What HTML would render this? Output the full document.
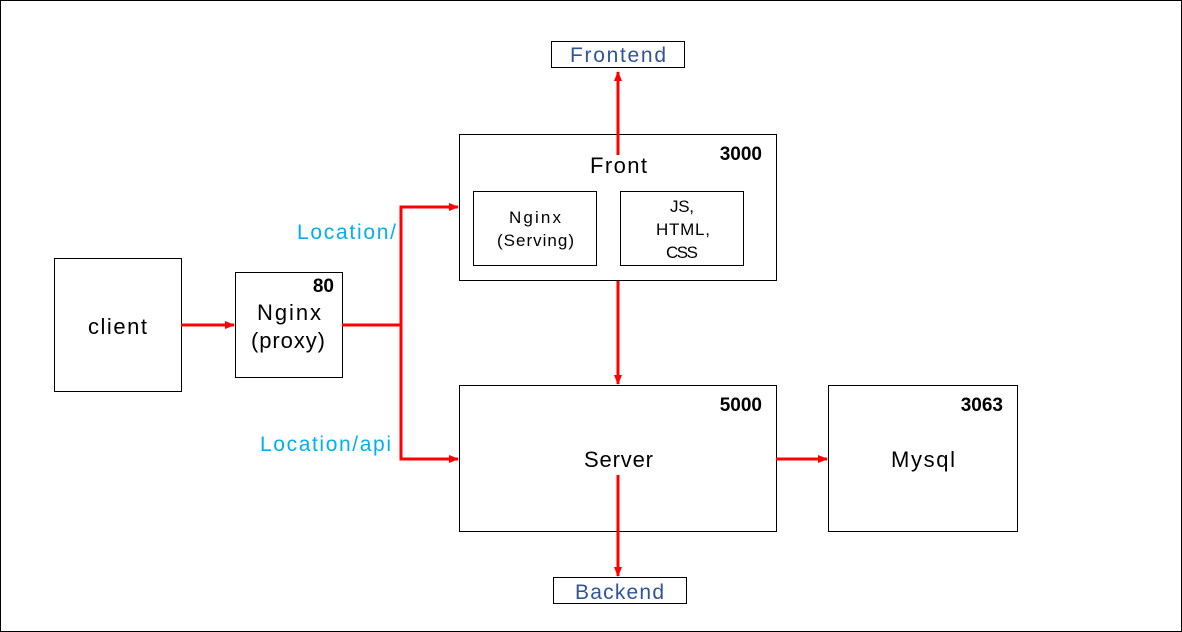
<!DOCTYPE html>
<html><head><meta charset="utf-8"><style>
html,body{margin:0;padding:0;background:#fff}
svg{display:block}
text{font-family:"Liberation Sans","Noto Sans CJK KR",sans-serif}
</style></head><body>
<svg width="1182" height="632" viewBox="0 0 1182 632" xmlns="http://www.w3.org/2000/svg">
<defs><marker id="a" markerWidth="10" markerHeight="10" refX="9" refY="5" orient="auto" markerUnits="userSpaceOnUse"><path d="M0,1 L10,5 L0,9 z" fill="#f00"/></marker></defs>
<rect x="0.5" y="0.5" width="1181" height="631" fill="#fff" stroke="#000"/>
<g fill="#fff" stroke="#000" stroke-width="1">
<rect x="54.5" y="258.5" width="127" height="133"/>
<rect x="235.5" y="272.5" width="107" height="105"/>
<rect x="459.5" y="134.5" width="317" height="146"/>
<rect x="473.5" y="191.5" width="123" height="74"/>
<rect x="620.5" y="191.5" width="123" height="74"/>
<rect x="551.5" y="41.5" width="133" height="26"/>
<rect x="459.5" y="385.5" width="317" height="146"/>
<rect x="828.5" y="385.5" width="189" height="146"/>
<rect x="553.5" y="577.5" width="133" height="26"/>
</g>
<g stroke="#f00" stroke-width="3" fill="none">
<line x1="181" y1="325" x2="234" y2="325" marker-end="url(#a)"/>
<polyline points="342,325 401,325"/>
<polyline points="401,459 401,207 458,207" marker-end="url(#a)"/>
<polyline points="401,325 401,459 458,459" marker-end="url(#a)"/>
<line x1="618" y1="155" x2="618" y2="72" marker-end="url(#a)"/>
<line x1="618" y1="281" x2="618" y2="384" marker-end="url(#a)"/>
<line x1="776" y1="459" x2="827" y2="459" marker-end="url(#a)"/>
<line x1="618" y1="475" x2="618" y2="576" marker-end="url(#a)"/>
</g>
<g font-size="22" fill="#000">
<text x="88" y="334" textLength="59">client</text>
<text x="257" y="320" textLength="64">Nginx</text>
<text x="251" y="348" textLength="74">(proxy)</text>
<text x="590" y="173" textLength="57">Front</text>
<text x="584" y="467" textLength="69">Server</text>
<text x="891" y="467" textLength="64">Mysql</text>
</g>
<g font-size="17" fill="#000">
<text x="509" y="223" textLength="52">Nginx</text>
<text x="497" y="246" textLength="77">(Serving)</text>
<text x="670" y="212" textLength="24">JS,</text>
<text x="656" y="235" textLength="54">HTML,</text>
<text x="666" y="258" textLength="32">CSS</text>
</g>
<g font-size="19" font-weight="bold" fill="#000" text-anchor="end">
<text x="334" y="292">80</text>
<text x="762" y="160">3000</text>
<text x="762" y="411">5000</text>
<text x="1003" y="411">3063</text>
</g>
<g font-size="21" fill="#2f5597">
<text x="570" y="62" textLength="96">Frontend</text>
<text x="575" y="599" textLength="89">Backend</text>
</g>
<g font-size="21" fill="#00b0f0">
<text x="297" y="239" textLength="99">Location/</text>
<text x="260" y="451" textLength="131">Location/api</text>
</g>
</svg>
</body></html>
